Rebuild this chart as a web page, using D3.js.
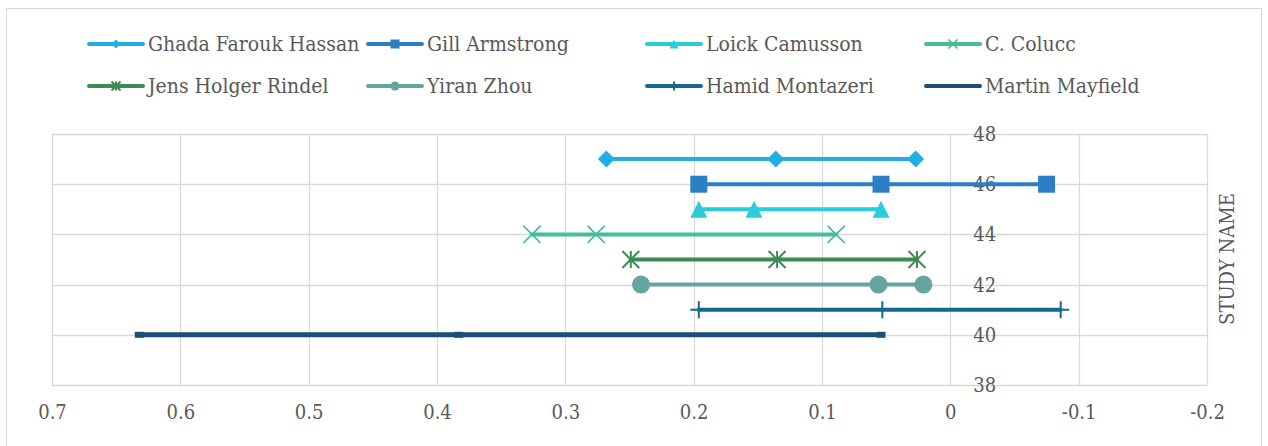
<!DOCTYPE html>
<html>
<head>
<meta charset="utf-8">
<script src="https://cdn.jsdelivr.net/npm/d3@7"></script>
<style>
	html, body { margin: 0; padding: 0; background: #fff; }
	svg { display: block; font-family: "DejaVu Serif Condensed", "DejaVu Serif", serif; }
</style>
</head>
<body>
<div id="chart"></div>
<script>
var d3 = window.d3;

// --------- Data --------- //
var seriesNames = ["Ghada Farouk Hassan", "Gill Armstrong", "Loick Camusson", "C. Colucc",
	"Jens Holger Rindel", "Yiran Zhou", "Hamid Montazeri", "Martin Mayfield"];
var studyIds = [47, 46, 45, 44, 43, 42, 41, 40];

var ghadaVals = [0.268, 0.136, 0.027];
var gillVals = [0.196, 0.054, -0.075];
var loickVals = [0.196, 0.153, 0.054];
var coluccVals = [0.326, 0.276, 0.089];
var jensVals = [0.249, 0.135, 0.026];
var yiranVals = [0.241, 0.056, 0.021];
var hamidVals = [0.196, 0.053, -0.086];
var martinVals = [0.632, 0.383, 0.054];

var xTicks = [0.7, 0.6, 0.5, 0.4, 0.3, 0.2, 0.1, 0, -0.1, -0.2];
var yTicks = [38, 40, 42, 44, 46, 48];
// --------- /Data --------- //

var colors = ["#21aee5", "#2a7fc7", "#29ccd8", "#45bd98", "#3d8a52", "#64a59e", "#15698a", "#1d4f76"];
var markers = ["diamond", "square", "triangle", "x", "star", "circle", "plus", "dash"];
var allVals = [ghadaVals, gillVals, loickVals, coluccVals, jensVals, yiranVals, hamidVals, martinVals];

var series = seriesNames.map(function(name, i){
	return {name: name, study: studyIds[i], values: allVals[i], color: colors[i], marker: markers[i]};
});

var width = 1268, height = 446;
var plot = {left: 52, right: 1207, top: 134, bottom: 385};
var textColor = "#595959";
var gridColor = "#d9d9d9";

var svg = d3.select("#chart").append("svg")
	.attr("width", width)
	.attr("height", height);

// outer chart border
svg.append("rect")
	.attr("x", 6.5).attr("y", 8.5)
	.attr("width", 1255).attr("height", 445)
	.attr("fill", "none")
	.attr("stroke", gridColor);

var x = d3.scaleLinear().domain([0.7, -0.2]).range([plot.left, plot.right]);
var y = d3.scaleLinear().domain([38, 48]).range([plot.bottom, plot.top]);

// --------- Grid & axes --------- //
var grid = svg.append("g");
grid.selectAll("line.vx").data(xTicks).enter().append("line")
	.attr("x1", function(d){ return Math.round(x(d)) + 0.5; })
	.attr("x2", function(d){ return Math.round(x(d)) + 0.5; })
	.attr("y1", plot.top).attr("y2", plot.bottom)
	.attr("stroke", gridColor).attr("stroke-width", 1.3);
grid.selectAll("line.hy").data(yTicks).enter().append("line")
	.attr("y1", function(d){ return Math.round(y(d)) + 0.5; })
	.attr("y2", function(d){ return Math.round(y(d)) + 0.5; })
	.attr("x1", plot.left).attr("x2", plot.right)
	.attr("stroke", gridColor).attr("stroke-width", 1.3);

var xAxis = svg.append("g")
	.attr("transform", "translate(0," + 412 + ")")
	.call(d3.axisBottom(x).tickValues(xTicks).tickSize(0).tickFormat(function(d){ return String(d); }))
	.attr("font-family", null)
	.attr("font-size", 20);
xAxis.select(".domain").remove();
xAxis.selectAll("text")
	.attr("dy", "0.35em").attr("y", 0)
	.attr("fill", textColor);

// y axis labels sit beside the x = 0 line
var yAxis = svg.append("g")
	.attr("transform", "translate(" + (x(0) + 23) + ",0)")
	.call(d3.axisRight(y).tickValues(yTicks).tickSize(0))
	.attr("font-family", null)
	.attr("font-size", 20);
yAxis.select(".domain").remove();
yAxis.selectAll("text")
	.attr("x", 0)
	.attr("fill", textColor);

svg.append("text")
	.attr("transform", "translate(1234," + 259 + ") rotate(-90)")
	.attr("text-anchor", "middle")
	.attr("fill", textColor)
	.style("font-size", "20px")
	.text("STUDY NAME");
// --------- /Grid & axes --------- //

// --------- Markers --------- //
function markerPath(type, s){
	var h = s / 2;
	switch (type){
		case "diamond": return "M0," + (-h) + "L" + h + ",0L0," + h + "L" + (-h) + ",0Z";
		case "square": return "M" + (-h) + "," + (-h) + "H" + h + "V" + h + "H" + (-h) + "Z";
		case "triangle": return "M0," + (-h) + "L" + h + "," + h + "L" + (-h) + "," + h + "Z";
		case "x": return "M" + (-h) + "," + (-h) + "L" + h + "," + h + "M" + h + "," + (-h) + "L" + (-h) + "," + h;
		case "star": return "M" + (-h) + "," + (-h) + "L" + h + "," + h + "M" + h + "," + (-h) + "L" + (-h) + "," + h +
			"M0," + (-h) + "V" + h;
		case "plus": return "M0," + (-h) + "V" + h + "M" + (-h) + ",0H" + h;
		case "circle": return d3.symbol().type(d3.symbolCircle).size(Math.PI * h * h)();
		case "dash": return "M-4.5,-3H4.5V3H-4.5Z"; // tiny flat marker, barely wider than the line
	}
	return "";
}

function isStroked(type){
	return type === "x" || type === "star" || type === "plus";
}

function drawMarker(g, type, color, s){
	var p = g.append("path").attr("d", markerPath(type, s));
	if (isStroked(type)){
		p.attr("fill", "none").attr("stroke", color).attr("stroke-width", type === "x" ? 1.6 : 2);
	}else{
		p.attr("fill", color);
	}
}
// --------- /Markers --------- //

// --------- Series --------- //
var line = d3.line()
	.x(function(d){ return x(d.v); })
	.y(function(d){ return y(d.study); });

series.forEach(function(s){
	var pts = s.values.map(function(v){ return {v: v, study: s.study}; });
	var g = svg.append("g");
	g.append("path")
		.attr("d", line(pts))
		.attr("fill", "none")
		.attr("stroke", s.color)
		.attr("stroke-width", s.marker === "dash" ? 5 : 4)
		.attr("stroke-linecap", s.marker === "dash" ? "butt" : "round");
	pts.forEach(function(p){
		var mg = g.append("g").attr("transform", "translate(" + x(p.v) + "," + y(p.study) + ")");
		drawMarker(mg, s.marker, s.color, s.marker === "circle" ? 18 : 17);
	});
});
// --------- /Series --------- //

// --------- Legend --------- //
var legendCols = [89, 368, 647, 926];
var legendRows = [44, 86];

series.forEach(function(s, i){
	var lx = legendCols[i % 4];
	var ly = legendRows[Math.floor(i / 4)];
	var lg = svg.append("g").attr("transform", "translate(" + lx + "," + ly + ")");
	lg.append("line")
		.attr("x1", 0).attr("x2", 54)
		.attr("y1", 0).attr("y2", 0)
		.attr("stroke", s.color)
		.attr("stroke-width", 4)
		.attr("stroke-linecap", "round");
	if (s.marker !== "dash"){
		var mg = lg.append("g").attr("transform", "translate(27,0)");
		drawMarker(mg, s.marker, s.color, 9);
	}
	lg.append("text")
		.attr("x", 59)
		.attr("dy", "0.35em")
		.attr("fill", textColor)
		.style("font-size", "21px")
		.text(s.name);
});
// --------- /Legend --------- //
</script>
</body>
</html>
